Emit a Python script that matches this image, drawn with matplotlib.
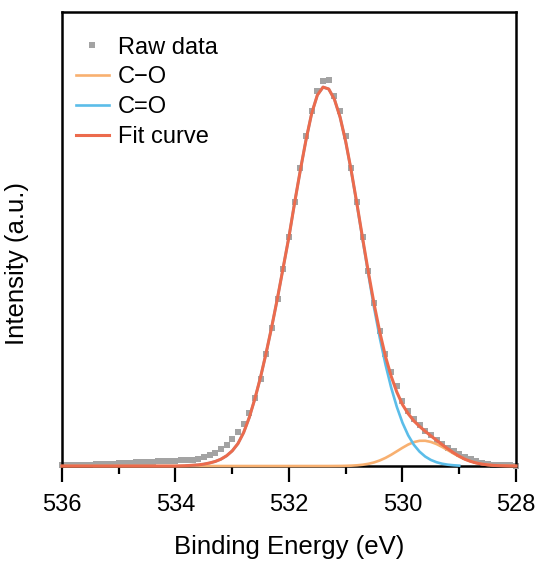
#!/usr/bin/env python3
# -*- coding=utf-8 -*-

import numpy as np
import matplotlib
matplotlib.use('Agg')
from matplotlib import pyplot as plt
from matplotlib.ticker import MultipleLocator

# O 1s spectrum, 0.1 eV step from 536.0 down to 528.0 eV
energy = np.round(np.arange(536.0, 527.95, -0.1), 1)

raw_data = [
    0.2, 0.25, 0.25, 0.3, 0.35, 0.4, 0.45, 0.5, 0.6, 0.65,
    0.7, 0.8, 0.85, 0.95, 1.0, 1.05, 1.1, 1.2, 1.25, 1.3,
    1.4, 1.5, 1.6, 1.7, 1.9, 2.4, 2.8, 3.5, 4.4, 5.6,
    7.1, 8.9, 11.0, 14.0, 18.0, 23.0, 29.5, 36.5, 44.0, 52.0,
    60.5, 69.5, 78.5, 87.0, 93.5, 98.8, 101.4, 101.8, 97.5, 93.5,
    87.0, 78.5, 69.5, 60.5, 51.5, 43.0, 35.5, 29.5, 24.8, 21.0,
    17.2, 14.5, 12.3, 10.7, 9.3, 8.1, 6.9, 5.7, 4.8, 4.0,
    3.3, 2.5, 1.9, 1.3, 0.9, 0.6, 0.4, 0.3, 0.2, 0.15,
    0.1,
]

fit_curve = [0.0] * 21 + [
    0.05, 0.1, 0.2, 0.3, 0.5, 0.8, 1.2, 1.8, 2.7, 4.0,
    5.9, 8.8, 12.8, 17.8, 23.5, 30.0, 37.0, 44.5, 52.5, 60.5,
    69.5, 78.0, 86.0, 93.0, 97.8, 99.9, 99.4, 96.7, 92.0, 85.5,
    77.6, 68.9, 59.8, 51.0, 42.7, 35.3, 28.9, 23.7, 19.5, 16.2,
    13.8, 11.9, 10.45, 9.16, 7.95, 6.79, 5.62, 4.52, 3.49, 2.58,
    1.79, 1.23, 0.80, 0.50, 0.30, 0.17, 0.09, 0.05, 0.02, 0.01,
]

c_o = [0.0] * 48 + [
    0.01, 0.02, 0.05, 0.10, 0.19, 0.34, 0.59, 0.95, 1.47, 2.14,
    2.96, 3.88, 4.81, 5.66, 6.30, 6.65, 6.66, 6.35, 5.79, 5.02,
    4.17, 3.29, 2.48, 1.79, 1.23, 0.80, 0.50, 0.30, 0.17, 0.09,
    0.05, 0.02, 0.01,
]

# C=O component only spans 533.8 .. 529.0 eV
c_eq_o_energy = energy[22:71]
c_eq_o = [
    0.1, 0.2, 0.3, 0.5, 0.8, 1.2, 1.8, 2.7, 4.0,
    5.9, 8.8, 12.8, 17.8, 23.5, 30.0, 37.0, 44.5, 52.5, 60.5,
    69.5, 78.0, 86.0, 93.0, 97.8, 99.9, 99.4, 96.7, 92.0, 85.4,
    77.5, 68.7, 59.5, 50.4, 41.7, 33.8, 26.8, 20.7, 15.6, 11.4,
    8.1, 5.6, 3.8, 2.5, 1.6, 1.0, 0.6, 0.35, 0.2, 0.1,
]

x_ticks = [536, 534, 532, 530, 528]


def main():
    plt.rcParams['font.family'] = ['Liberation Sans', 'DejaVu Sans']

    fig = plt.figure(figsize=(5.42, 5.61), dpi=100)
    ax = fig.add_axes([0.1144, 0.1693, 0.8376, 0.8093])

    ax.plot(energy, raw_data, 's', color='#a3a3a3', ms=4, mew=0,
            label='Raw data', zorder=2, clip_on=False)
    ax.plot(energy, c_o, color='#f8b070', lw=1.9, label='C\u2212O',
            zorder=3, clip_on=False)
    ax.plot(c_eq_o_energy, c_eq_o, color='#5bbde9', lw=1.9, label='C=O',
            zorder=3.1, clip_on=False)
    ax.plot(energy, fit_curve, color='#ec6b4d', lw=2.2, label='Fit curve',
            zorder=3.2, clip_on=False)

    ax.set_xlim(536, 528)
    ax.set_ylim(0, 119.7)
    ax.set_xticks(x_ticks)
    ax.xaxis.set_minor_locator(MultipleLocator(1))
    ax.set_yticks([])
    ax.tick_params(axis='x', which='major', direction='out', length=11.5,
                   width=1.6, labelsize=17, pad=9)
    ax.tick_params(axis='x', which='minor', direction='out', length=6,
                   width=1.6)
    for s in ax.spines.values():
        s.set_linewidth(1.8)

    ax.set_xlabel('Binding Energy (eV)', fontsize=18.5, labelpad=13)
    ax.set_ylabel('Intensity (a.u.)', fontsize=18.5)
    ax.yaxis.set_label_coords(-0.072, 0.445)

    ax.legend(loc='upper left', bbox_to_anchor=(0.03, 0.946), frameon=False,
              fontsize=17, handlelength=1.4, handletextpad=0.4,
              labelspacing=0.33, borderpad=0, borderaxespad=0, numpoints=1)

    fig.savefig('out.png', dpi=100)


if "__main__" == __name__:
    main()
